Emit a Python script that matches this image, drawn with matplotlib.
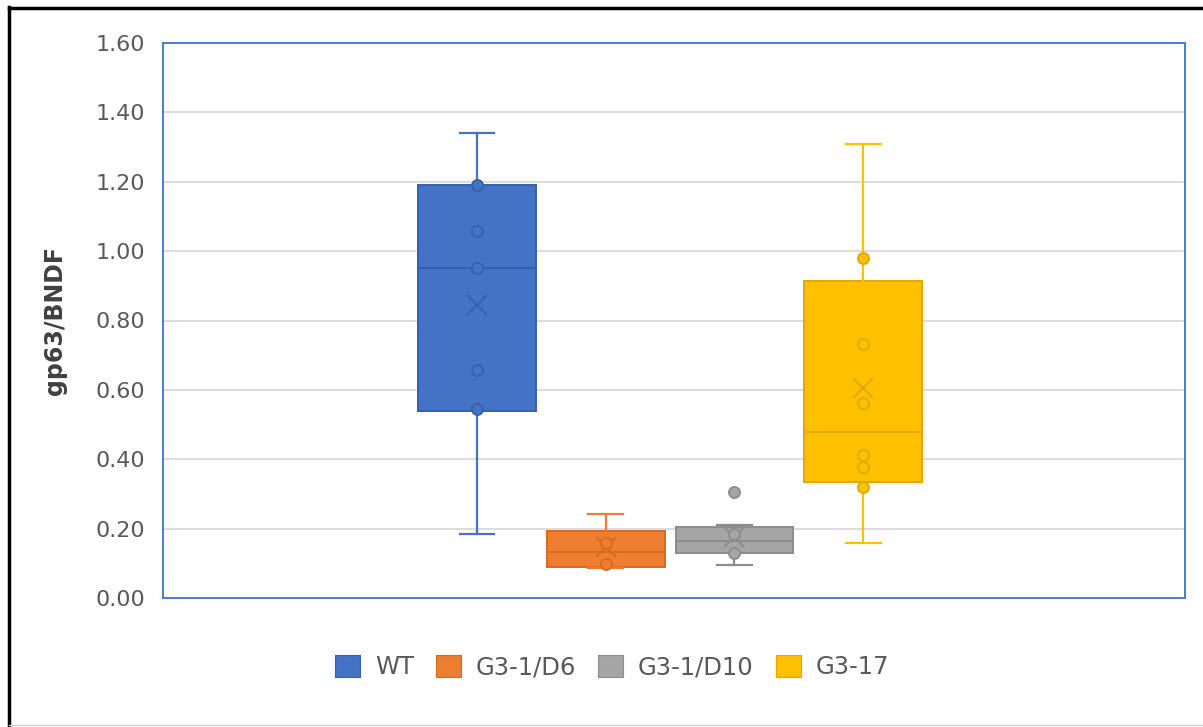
import matplotlib
matplotlib.use("Agg")
import matplotlib.pyplot as plt
from matplotlib.lines import Line2D
from matplotlib.patches import Patch

# values (Excel box & whisker, exclusive quartiles)
groups = ["WT", "G3-1/D6", "G3-1/D10", "G3-17"]
whislo = [0.185, 0.086, 0.095, 0.16]
q1 = [0.54, 0.089, 0.13, 0.335]
medians = [0.95, 0.132, 0.165, 0.48]
q3 = [1.19, 0.194, 0.205, 0.915]
whishi = [1.34, 0.242, 0.21, 1.31]
means = [0.846, 0.147, 0.175, 0.605]
inner_points = [
    [1.19, 1.058, 0.95, 0.657, 0.545],
    [0.158, 0.097],
    [0.185, 0.131],
    [0.979, 0.731, 0.561, 0.412, 0.378, 0.321],
]
outliers = [[], [], [0.305], []]

colors = ["#4472C4", "#ED7D31", "#A5A5A5", "#FFC000"]
edges = ["#3560AE", "#D86A20", "#8C8C8C", "#E0A800"]
text_grey = "#595959"

fig = plt.figure(figsize=(12.03, 7.27), dpi=100)
ax = fig.add_axes([163 / 1203, 129 / 727, 1022 / 1203, 555 / 727])

positions = [1, 2, 3, 4]
for i, pos in enumerate(positions):
    stats = [{
        "whislo": whislo[i], "q1": q1[i], "med": medians[i], "q3": q3[i],
        "whishi": whishi[i], "fliers": outliers[i], "mean": means[i],
    }]
    ax.bxp(stats, positions=[pos], widths=0.915, capwidths=0.27,
           patch_artist=True, showmeans=True, showfliers=True,
           boxprops=dict(facecolor=colors[i], edgecolor=edges[i], linewidth=1.4),
           medianprops=dict(color=edges[i], linewidth=1.4),
           whiskerprops=dict(color=colors[i] if i != 2 else edges[i], linewidth=1.6),
           capprops=dict(color=colors[i] if i != 2 else edges[i], linewidth=1.6),
           meanprops=dict(marker="x", markersize=14, markeredgecolor=edges[i],
                          markeredgewidth=1.4),
           flierprops=dict(marker="o", markersize=8, markerfacecolor=colors[i],
                           markeredgecolor=edges[i], markeredgewidth=1.3),
           zorder=3)
    ax.plot([pos] * len(inner_points[i]), inner_points[i], "o", ms=8,
            mfc=colors[i], mec=edges[i], mew=1.3, zorder=4)

ax.set_xlim(-1.44, 6.5)
ax.set_ylim(0, 1.6)
ax.set_yticks([0.2 * k for k in range(9)])
ax.set_yticklabels([f"{0.2 * k:.2f}" for k in range(9)])
ax.set_xticks([])
ax.tick_params(axis="y", length=0, pad=13, labelsize=16, labelcolor=text_grey)
ax.grid(axis="y", color="#D9D9D9", linewidth=1.3, zorder=0)
ax.set_axisbelow(True)
for s in ax.spines.values():
    s.set_color("#4A7BD0")
    s.set_linewidth(1.4)
ax.set_ylabel("gp63/BNDF", fontsize=17, fontweight="bold", color="#404040", labelpad=20)

handles = [Patch(facecolor=c, edgecolor=e, linewidth=0.8) for c, e in zip(colors, edges)]
fig.legend(handles, groups, loc="center", bbox_to_anchor=(612 / 1203, 1 - 667 / 727),
           ncol=4, frameon=False, fontsize=17.5, labelcolor=text_grey,
           handlelength=1.05, handleheight=1.05, handletextpad=0.6, columnspacing=0.9)

# outer frame of the screenshot
fig.add_artist(Line2D([8.5 / 1203, 8.5 / 1203], [0, 1 - 7 / 727], color="black", lw=2.5))
fig.add_artist(Line2D([8.5 / 1203, 1], [1 - 7.5 / 727, 1 - 7.5 / 727], color="black", lw=2.5))
fig.add_artist(Line2D([8.5 / 1203, 1], [2 / 727, 2 / 727], color="#D0D0D0", lw=1))

fig.savefig("out.png", dpi=100)
